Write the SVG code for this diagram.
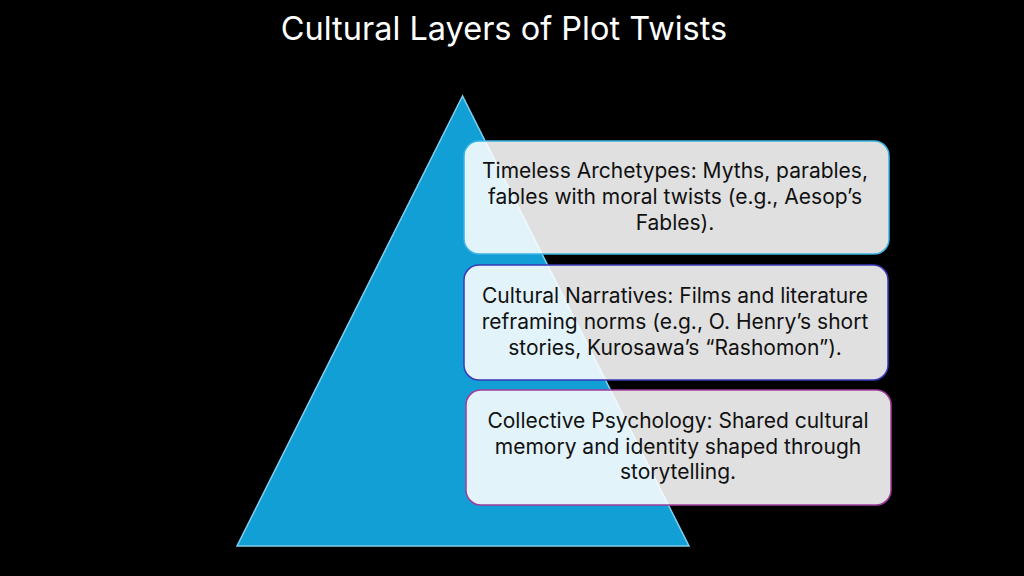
<svg xmlns="http://www.w3.org/2000/svg" width="1024" height="576" viewBox="0 0 1024 576">
<style>
.title{font-family:Inter,"Open Sans","Liberation Sans",sans-serif;font-size:32.5px;fill:#ffffff;text-anchor:middle}
.body{font-family:Inter,"Open Sans","Liberation Sans",sans-serif;font-size:21px;fill:#111111;text-anchor:middle}
.box{fill:#ffffff;fill-opacity:0.88;stroke-width:1.5}
</style>
<rect width="1024" height="576" fill="#000000"/>
<text class="title" x="504" y="40">Cultural Layers of Plot Twists</text>
<g id="pyramid">
<polygon points="462.5,96 237,546 689,546" fill="#129fd6" stroke="#7fd0f0" stroke-width="1.5"/>
</g>
<g id="connectors"/>
<g id="layer1">
<rect class="box" x="464" y="141" width="425" height="113" rx="15" stroke="#3ab4e2"/>
<text class="body" x="675" y="178">Timeless Archetypes: Myths, parables,</text>
<text class="body" x="675" y="204">fables with moral twists (e.g., Aesop’s</text>
<text class="body" x="675" y="230">Fables).</text>
</g>
<g id="layer2">
<rect class="box" x="464" y="265" width="424" height="115" rx="15" stroke="#3a3ab8"/>
<text class="body" x="675" y="303">Cultural Narratives: Films and literature</text>
<text class="body" x="675" y="329">reframing norms (e.g., O. Henry’s short</text>
<text class="body" x="675" y="355">stories, Kurosawa’s “Rashomon”).</text>
</g>
<g id="layer3">
<rect class="box" x="466" y="390" width="425" height="115" rx="15" stroke="#a03c9c"/>
<text class="body" x="678" y="428">Collective Psychology: Shared cultural</text>
<text class="body" x="678" y="454">memory and identity shaped through</text>
<text class="body" x="678" y="479">storytelling.</text>
</g>
</svg>
